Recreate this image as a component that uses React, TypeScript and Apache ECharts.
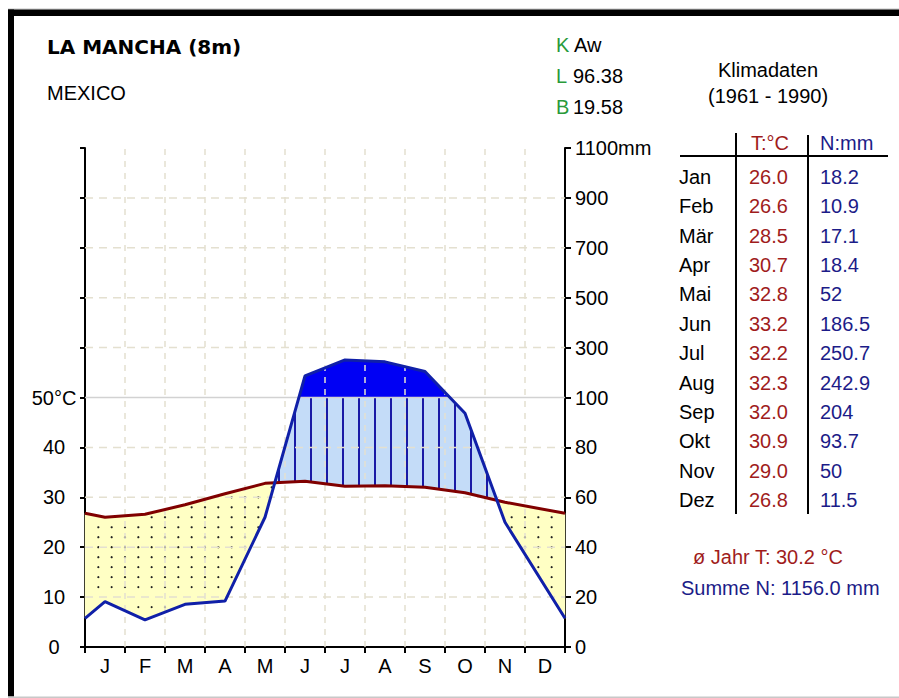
import React, { useEffect, useRef } from "react";
import * as echarts from "echarts";

// ---------- data ----------
const monthAxisLabels = ["J", "F", "M", "A", "M", "J", "J", "A", "S", "O", "N", "D"];
const monthNames = ["Jan", "Feb", "Mär", "Apr", "Mai", "Jun", "Jul", "Aug", "Sep", "Okt", "Nov", "Dez"];
const tempC = [26.0, 26.6, 28.5, 30.7, 32.8, 33.2, 32.2, 32.3, 32.0, 30.9, 29.0, 26.8];
const precipMm = [18.2, 10.9, 17.1, 18.4, 52, 186.5, 250.7, 242.9, 204, 93.7, 50, 11.5];
const leftTickLabels = ["0", "10", "20", "30", "40", "50°C", "", "", "", "", ""];
const rightTickLabels = ["0", "20", "40", "60", "80", "100", "300", "500", "700", "900", "1100mm"];
const stationTitle = "LA MANCHA (8m)";
const stationCountry = "MEXICO";
const climateClass = "Aw";
const longitude = "96.38";
const latitude = "19.58";
const periodTitle = "Klimadaten";
const periodRange = "(1961 - 1990)";
const annualTempText = "30.2";
const annualPrecipText = "1156.0";

// ---------- helpers ----------
const FONT = '"Liberation Sans", Arial, sans-serif';
const RED_TEXT = "#a01c1c";
const BLUE_TEXT = "#1c1c88";
const GREEN_TEXT = "#2a9a3a";

// precipitation mm -> diagram units (°C scale: 10°C = 20mm up to 100mm, then 200mm per 10 units)
const mmToUnits = (mm: number) => (mm <= 100 ? mm / 2 : 50 + (mm - 100) / 20);

// plotting positions: months at centres, December wraps to both edges
const plotX: number[] = [0];
for (let i = 0; i < 11; i++) plotX.push(i + 0.5);
plotX.push(12);
const plotT = [tempC[11], ...tempC.slice(0, 11), tempC[11]];
const plotP = [precipMm[11], ...precipMm.slice(0, 11), precipMm[11]].map(mmToUnits);

function interp(arr: number[], x: number) {
  for (let i = 0; i < plotX.length - 1; i++) {
    const a = plotX[i], b = plotX[i + 1];
    if (x >= a && x <= b) {
      const t = b === a ? 0 : (x - a) / (b - a);
      return arr[i] + (arr[i + 1] - arr[i]) * t;
    }
  }
  return arr[arr.length - 1];
}
const Tf = (x: number) => interp(plotT, x);
const Pf = (x: number) => interp(plotP, x);

// breakpoints incl. crossings
const breaks: number[] = [...plotX];
for (let i = 0; i < plotX.length - 1; i++) {
  const a = plotX[i], b = plotX[i + 1];
  const d0 = plotP[i] - plotT[i], d1 = plotP[i + 1] - plotT[i + 1];
  if (d0 * d1 < 0) breaks.push(a + (b - a) * (d0 / (d0 - d1)));
  const e0 = plotP[i] - 50, e1 = plotP[i + 1] - 50;
  if (e0 * e1 < 0) breaks.push(a + (b - a) * (e0 / (e0 - e1)));
}
breaks.sort((a, b) => a - b);

function buildRegions(pred: (x: number) => boolean, upper: (x: number) => number, lower: (x: number) => number) {
  const polys: number[][][] = [];
  let cur: number[] | null = null;
  for (let i = 0; i < breaks.length - 1; i++) {
    const a = breaks[i], b = breaks[i + 1];
    if (b - a < 1e-9) continue;
    const m = (a + b) / 2;
    if (pred(m)) {
      if (!cur) cur = [a];
      cur.push(b);
    } else if (cur) {
      polys.push(cur);
      cur = null;
    }
  }
  if (cur) polys.push(cur);
  return polys.map((xs) => [
    ...xs.map((x) => [x, upper(x)]),
    ...xs.slice().reverse().map((x) => [x, lower(x)]),
  ]);
}

const aridPolys = buildRegions((x) => Pf(x) < Tf(x), Tf, Pf);
const humidPolys = buildRegions((x) => Pf(x) > Tf(x), (x) => Math.min(Pf(x), 50), Tf);
const perhumidPolys = buildRegions((x) => Pf(x) > 50, Pf, () => 50);

function txt(x: number, y: number, text: string, o: any = {}) {
  const align = o.align || "left";
  return {
    type: "text",
    x,
    y,
    silent: true,
    z: 10,
    style: {
      text,
      fill: o.fill || "#000",
      font: `${o.weight || "normal"} ${o.size || 20}px ${o.family || FONT}`,
      textAlign: align,
      align,
      textVerticalAlign: "middle",
      verticalAlign: "middle",
    },
  };
}
function ln(x1: number, y1: number, x2: number, y2: number, stroke = "#000", lineWidth = 2) {
  return { type: "line", silent: true, z: 10, shape: { x1, y1, x2, y2 }, style: { stroke, lineWidth } };
}

export default function App() {
  const ref = useRef<HTMLDivElement>(null);
  useEffect(() => {
    document.body.style.margin = "0";
    if (!ref.current) return;
    const chart = echarts.init(ref.current, undefined, { renderer: "svg" });

    const graphics: any[] = [];
    // frame
    graphics.push({ type: "rect", silent: true, shape: { x: 8, y: 8.5, width: 891, height: 1 }, style: { fill: "#c4c4c4" } });
    graphics.push({ type: "rect", silent: true, shape: { x: 8, y: 9.5, width: 891, height: 6.5 }, style: { fill: "#000" } });
    graphics.push({ type: "rect", silent: true, shape: { x: 8, y: 9.5, width: 6, height: 687 }, style: { fill: "#000" } });
    graphics.push({ type: "rect", silent: true, shape: { x: 8, y: 696.5, width: 891, height: 1.5 }, style: { fill: "#c8c8c8" } });

    // header texts
    graphics.push(txt(47, 47, stationTitle, { weight: "bold", family: '"DejaVu Sans", Verdana, sans-serif', size: 20 }));
    graphics.push(txt(47, 93, stationCountry));
    graphics.push(txt(556, 45, "K", { fill: GREEN_TEXT }));
    graphics.push(txt(574, 45, climateClass));
    graphics.push(txt(556, 76, "L", { fill: GREEN_TEXT }));
    graphics.push(txt(573, 76, longitude));
    graphics.push(txt(556, 107, "B", { fill: GREEN_TEXT }));
    graphics.push(txt(573, 107, latitude));
    graphics.push(txt(768, 70, periodTitle, { align: "center" }));
    graphics.push(txt(768, 96, periodRange, { align: "center" }));

    // table
    graphics.push(txt(770, 143, "T:°C", { align: "center", fill: RED_TEXT }));
    graphics.push(txt(820, 143, "N:mm", { fill: BLUE_TEXT }));
    graphics.push(ln(680, 156, 888, 156, "#000", 2));
    graphics.push(ln(736, 133, 736, 514, "#000", 2));
    graphics.push(ln(808, 135, 808, 514, "#000", 2));
    const rowStep = (500 - 177) / 11;
    monthNames.forEach((m, i) => {
      const y = 177 + i * rowStep;
      graphics.push(txt(679, y, m));
      graphics.push(txt(749, y, tempC[i].toFixed(1), { fill: RED_TEXT }));
      graphics.push(txt(820, y, String(precipMm[i]), { fill: BLUE_TEXT }));
    });
    graphics.push(txt(693, 557, `ø Jahr T: ${annualTempText} °C`, { fill: RED_TEXT }));
    graphics.push(txt(681, 588, `Summe N: ${annualPrecipText} mm`, { fill: BLUE_TEXT }));

    const option: any = {
      animation: false,
      backgroundColor: "#ffffff",
      grid: { left: 85, top: 148, width: 480, height: 499, containLabel: false },
      xAxis: [
        {
          type: "value",
          min: 0,
          max: 12,
          interval: 1,
          axisLine: { show: true, onZero: false, lineStyle: { color: "#000", width: 2 } },
          axisTick: { show: true, length: 6, lineStyle: { color: "#000", width: 2 } },
          axisLabel: { show: false },
          splitLine: { show: false },
        },
        {
          type: "category",
          position: "bottom",
          data: monthNames,
          boundaryGap: true,
          axisLine: { show: false },
          axisTick: { show: false },
          axisLabel: {
            show: true,
            interval: 0,
            margin: 9,
            fontFamily: FONT,
            fontSize: 20,
            color: "#000",
            formatter: (_v: string, i: number) => monthAxisLabels[i],
          },
          splitLine: { show: false },
        },
      ],
      yAxis: [
        {
          type: "value",
          position: "left",
          min: 0,
          max: 100,
          interval: 10,
          axisLine: { show: true, onZero: false, lineStyle: { color: "#000", width: 2 } },
          axisTick: { show: true, length: 5, lineStyle: { color: "#000", width: 2 } },
          axisLabel: {
            show: true,
            align: "center",
            margin: 31,
            fontFamily: FONT,
            fontSize: 20,
            color: "#000",
            formatter: (v: number) => leftTickLabels[Math.round(v / 10)] ?? "",
          },
          splitLine: { show: false },
        },
        {
          type: "value",
          position: "right",
          min: 0,
          max: 100,
          interval: 10,
          axisLine: { show: true, onZero: false, lineStyle: { color: "#000", width: 2 } },
          axisTick: { show: true, length: 6, lineStyle: { color: "#000", width: 2 } },
          axisLabel: {
            show: true,
            align: "left",
            margin: 10,
            fontFamily: FONT,
            fontSize: 20,
            color: "#000",
            formatter: (v: number) => rightTickLabels[Math.round(v / 10)] ?? "",
          },
          splitLine: { show: false },
        },
      ],
      graphic: graphics,
      series: [
        {
          type: "custom",
          xAxisIndex: 0,
          yAxisIndex: 0,
          silent: true,
          clip: false,
          z: 1,
          data: [[0, 0]],
          encode: { x: 0, y: 1 },
          renderItem: (_params: any, api: any) => {
            const c = (x: number, y: number) => api.coord([x, y]);
            const children: any[] = [];
            const poly = (pts: number[][], fill: string) =>
              children.push({ type: "polygon", shape: { points: pts.map((p) => c(p[0], p[1])) }, style: { fill, stroke: fill, lineWidth: 0.5 } });
            aridPolys.forEach((p) => poly(p, "#ffffc4"));
            humidPolys.forEach((p) => poly(p, "#c4dcf8"));
            perhumidPolys.forEach((p) => poly(p, "#0000f4"));

            // dotted pattern in arid area
            for (let k = 1; k < 36; k++) {
              const x = k / 3;
              const t = Tf(x), p = Pf(x);
              if (p >= t) continue;
              for (let y = 2; y < 50; y += 2) {
                if (y > p + 0.8 && y < t - 0.8) {
                  const q = c(x, y);
                  children.push({ type: "circle", shape: { cx: q[0], cy: q[1], r: 1.1 }, style: { fill: "#222" } });
                }
              }
            }
            // vertical hatching in humid area
            for (let k = 0; k < 31; k++) {
              const x = 0.05 + 0.4 * k;
              const t = Tf(x), p = Pf(x);
              if (p <= t) continue;
              const a = c(x, t), b = c(x, Math.min(p, 50));
              children.push({ type: "line", shape: { x1: a[0], y1: a[1], x2: b[0], y2: b[1] }, style: { stroke: "#1a1aa6", lineWidth: 2 } });
            }
            // dashed grid
            for (let m = 1; m < 12; m++) {
              const a = c(m, 0), b = c(m, 100);
              children.push({ type: "line", shape: { x1: a[0], y1: a[1], x2: b[0], y2: b[1] }, style: { stroke: "#e4e0d0", lineWidth: 1.5, lineDash: [6, 6] } });
            }
            for (let v = 10; v < 100; v += 10) {
              if (v === 50) continue;
              const a = c(0, v), b = c(12, v);
              children.push({ type: "line", shape: { x1: a[0], y1: a[1], x2: b[0], y2: b[1] }, style: { stroke: "#e4e0d0", lineWidth: 1.5, lineDash: [8, 6] } });
            }
            const a50 = c(0, 50), b50 = c(12, 50);
            children.push({ type: "line", shape: { x1: a50[0], y1: a50[1], x2: b50[0], y2: b50[1] }, style: { stroke: "#d2d2d2", lineWidth: 1.5 } });
            return { type: "group", children };
          },
        },
        {
          type: "line",
          name: "T",
          xAxisIndex: 0,
          yAxisIndex: 0,
          data: plotX.map((x, i) => [x, plotT[i]]),
          symbol: "none",
          showSymbol: false,
          silent: true,
          z: 3,
          lineStyle: { color: "#800000", width: 3 },
        },
        {
          type: "line",
          name: "N",
          xAxisIndex: 0,
          yAxisIndex: 0,
          data: plotX.map((x, i) => [x, plotP[i]]),
          symbol: "none",
          showSymbol: false,
          silent: true,
          z: 4,
          lineStyle: { color: "#1020a8", width: 3 },
        },
      ],
    };
    chart.setOption(option);
    return () => chart.dispose();
  }, []);
  return <div ref={ref} style={{ width: 899, height: 698, background: "#fff" }} />;
}
